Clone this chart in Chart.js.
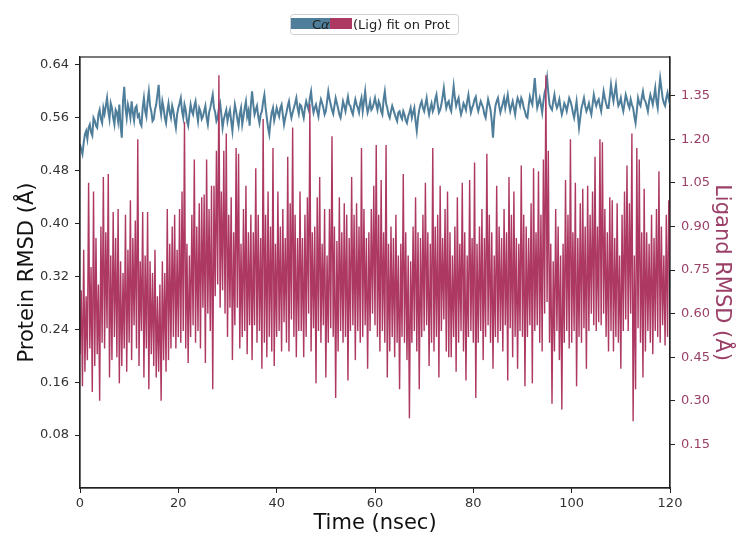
<!DOCTYPE html>
<html>
<head>
<meta charset="utf-8">
<script src="https://cdn.jsdelivr.net/npm/chart.js@4.4.0/dist/chart.umd.min.js"></script>
<style>
  html, body { margin: 0; padding: 0; background: #fff; }
  #wrap { width: 739px; height: 536px; }
</style>
</head>
<body>
<div id="wrap"><canvas id="rmsd"></canvas></div>
<script>
// frames every 0.25 ns, 0 .. 120 ns
const timeStep = 0.25;

// Cα protein RMSD (left axis, Å) - one row = 5 ns
const proteinRmsd = [
  0.520, 0.512, 0.505, 0.522, 0.535, 0.540, 0.528, 0.545, 0.550, 0.538, 0.533, 0.560, 0.556, 0.548, 0.545, 0.565, 0.572, 0.558, 0.552, 0.575,
  0.566, 0.578, 0.590, 0.570, 0.558, 0.582, 0.575, 0.560, 0.550, 0.572, 0.568, 0.555, 0.580, 0.548, 0.530, 0.585, 0.607, 0.575, 0.560, 0.580,
  0.572, 0.560, 0.585, 0.568, 0.556, 0.575, 0.578, 0.562, 0.565, 0.552, 0.548, 0.575, 0.590, 0.570, 0.562, 0.585, 0.600, 0.578, 0.570, 0.555,
  0.558, 0.572, 0.580, 0.595, 0.610, 0.578, 0.565, 0.585, 0.575, 0.560, 0.552, 0.570, 0.582, 0.568, 0.560, 0.578, 0.570, 0.556, 0.545, 0.565,
  0.575, 0.582, 0.590, 0.570, 0.560, 0.580, 0.572, 0.555, 0.548, 0.565, 0.580, 0.570, 0.565, 0.578, 0.585, 0.568, 0.555, 0.575, 0.570, 0.558,
  0.562, 0.570, 0.578, 0.560, 0.550, 0.568, 0.575, 0.585, 0.595, 0.575, 0.568, 0.555, 0.560, 0.575, 0.582, 0.565, 0.545, 0.558, 0.565, 0.572,
  0.555, 0.565, 0.572, 0.555, 0.540, 0.562, 0.580, 0.570, 0.558, 0.548, 0.566, 0.575, 0.550, 0.562, 0.575, 0.585, 0.562, 0.570, 0.548, 0.580,
  0.600, 0.580, 0.565, 0.572, 0.578, 0.562, 0.552, 0.565, 0.570, 0.585, 0.595, 0.575, 0.560, 0.545, 0.535, 0.555, 0.568, 0.575, 0.556, 0.565,
  0.575, 0.568, 0.562, 0.575, 0.580, 0.565, 0.550, 0.560, 0.568, 0.578, 0.585, 0.570, 0.560, 0.568, 0.575, 0.582, 0.590, 0.575, 0.566, 0.580,
  0.578, 0.568, 0.560, 0.575, 0.585, 0.578, 0.572, 0.590, 0.600, 0.580, 0.568, 0.575, 0.580, 0.570, 0.562, 0.578, 0.588, 0.582, 0.575, 0.565,
  0.570, 0.585, 0.600, 0.588, 0.580, 0.572, 0.566, 0.578, 0.590, 0.582, 0.574, 0.565, 0.560, 0.572, 0.585, 0.578, 0.570, 0.582, 0.592, 0.580,
  0.578, 0.570, 0.565, 0.578, 0.588, 0.580, 0.575, 0.568, 0.582, 0.590, 0.570, 0.585, 0.600, 0.580, 0.568, 0.575, 0.585, 0.572, 0.575, 0.582,
  0.590, 0.580, 0.572, 0.585, 0.580, 0.570, 0.565, 0.588, 0.600, 0.582, 0.575, 0.565, 0.560, 0.570, 0.578, 0.572, 0.566, 0.560, 0.555, 0.568,
  0.570, 0.562, 0.558, 0.570, 0.565, 0.556, 0.552, 0.562, 0.568, 0.575, 0.560, 0.568, 0.575, 0.555, 0.540, 0.560, 0.572, 0.580, 0.585, 0.575,
  0.570, 0.580, 0.590, 0.575, 0.565, 0.575, 0.582, 0.570, 0.575, 0.588, 0.595, 0.580, 0.568, 0.572, 0.580, 0.592, 0.605, 0.588, 0.575, 0.582,
  0.585, 0.575, 0.570, 0.590, 0.608, 0.590, 0.578, 0.585, 0.590, 0.575, 0.565, 0.572, 0.582, 0.578, 0.572, 0.585, 0.595, 0.580, 0.568, 0.575,
  0.580, 0.588, 0.592, 0.578, 0.570, 0.578, 0.585, 0.580, 0.575, 0.565, 0.560, 0.575, 0.588, 0.580, 0.572, 0.555, 0.530, 0.560, 0.578, 0.585,
  0.590, 0.578, 0.568, 0.575, 0.582, 0.590, 0.575, 0.585, 0.595, 0.580, 0.570, 0.578, 0.585, 0.575, 0.565, 0.580, 0.590, 0.585, 0.578, 0.590,
  0.585, 0.575, 0.570, 0.562, 0.560, 0.578, 0.592, 0.585, 0.580, 0.600, 0.620, 0.595, 0.575, 0.582, 0.590, 0.580, 0.568, 0.585, 0.598, 0.605,
  0.620, 0.598, 0.580, 0.575, 0.572, 0.585, 0.595, 0.582, 0.575, 0.580, 0.588, 0.575, 0.565, 0.572, 0.582, 0.578, 0.570, 0.580, 0.590, 0.585,
  0.578, 0.568, 0.560, 0.572, 0.585, 0.565, 0.545, 0.560, 0.575, 0.582, 0.590, 0.578, 0.570, 0.575, 0.582, 0.572, 0.565, 0.580, 0.595, 0.585,
  0.578, 0.585, 0.588, 0.578, 0.570, 0.585, 0.600, 0.590, 0.582, 0.575, 0.575, 0.592, 0.610, 0.595, 0.585, 0.598, 0.610, 0.590, 0.578, 0.582,
  0.590, 0.578, 0.570, 0.582, 0.595, 0.588, 0.580, 0.575, 0.588, 0.580, 0.575, 0.562, 0.552, 0.570, 0.590, 0.582, 0.578, 0.590, 0.600, 0.588,
  0.585, 0.578, 0.570, 0.585, 0.595, 0.588, 0.580, 0.592, 0.605, 0.585, 0.575, 0.600, 0.620, 0.605, 0.590, 0.582, 0.578, 0.590, 0.598, 0.588,
  0.580
];

// ligand RMSD, fit on protein (right axis, Å) - one row = 5 ns
const ligandRmsd = [
  0.46, 0.68, 0.35, 0.82, 0.40, 0.66, 0.44, 1.05, 0.48, 0.76, 0.33, 1.02, 0.42, 0.86, 0.46, 0.70, 0.30, 0.90, 0.50, 1.07,
  0.48, 0.88, 0.55, 1.08, 0.38, 0.80, 0.44, 0.95, 0.52, 0.86, 0.45, 0.96, 0.36, 0.78, 0.42, 0.74, 0.48, 0.94, 0.40, 0.82,
  0.50, 0.99, 0.44, 0.86, 0.56, 0.92, 0.48, 1.20, 0.42, 0.78, 0.54, 0.95, 0.38, 0.80, 0.48, 0.95, 0.34, 0.78, 0.46, 0.74,
  0.42, 0.82, 0.38, 0.66, 0.40, 0.70, 0.30, 0.78, 0.44, 0.74, 0.40, 0.96, 0.44, 0.84, 0.48, 0.90, 0.52, 0.94, 0.48, 0.82,
  0.52, 0.96, 0.50, 1.02, 0.54, 1.26, 0.48, 0.84, 0.43, 0.80, 0.52, 0.94, 0.56, 1.13, 0.50, 0.90, 0.54, 0.98, 0.48, 1.00,
  0.62, 1.01, 0.43, 1.13, 0.60, 0.96, 0.54, 1.04, 0.34, 1.04, 0.66, 1.16, 0.70, 1.42, 0.62, 1.02, 0.68, 1.16, 0.60, 1.22,
  0.52, 0.94, 0.62, 1.00, 0.44, 0.88, 0.56, 1.17, 0.62, 1.15, 0.48, 0.84, 0.52, 0.96, 0.54, 1.04, 0.46, 0.88, 0.56, 0.94,
  0.44, 0.88, 0.56, 1.10, 0.50, 0.94, 0.54, 0.86, 0.41, 1.27, 0.50, 0.94, 0.45, 1.02, 0.52, 0.90, 0.47, 1.17, 0.42, 0.84,
  0.52, 1.02, 0.54, 0.90, 0.47, 0.96, 0.57, 0.86, 0.50, 1.14, 0.47, 0.98, 0.58, 1.24, 0.52, 0.94, 0.45, 0.86, 0.54, 1.02,
  0.54, 0.86, 0.45, 0.94, 0.52, 1.00, 0.60, 1.32, 0.47, 0.88, 0.55, 0.90, 0.36, 1.00, 0.54, 1.07, 0.50, 0.84, 0.56, 0.96,
  0.38, 0.80, 0.50, 0.96, 0.55, 1.21, 0.52, 0.90, 0.31, 0.85, 0.47, 1.00, 0.54, 0.88, 0.50, 0.98, 0.52, 0.94, 0.37, 0.86,
  0.54, 1.07, 0.56, 0.94, 0.44, 0.98, 0.54, 0.90, 0.50, 1.17, 0.52, 0.96, 0.56, 0.86, 0.41, 0.88, 0.54, 0.96, 0.60, 1.04,
  0.56, 1.18, 0.52, 0.94, 0.47, 1.06, 0.54, 0.88, 0.50, 1.18, 0.38, 0.84, 0.47, 0.90, 0.52, 0.86, 0.45, 0.94, 0.50, 0.80,
  0.34, 0.84, 0.52, 1.08, 0.50, 0.88, 0.44, 0.80, 0.24, 0.78, 0.50, 0.90, 0.54, 1.00, 0.47, 0.88, 0.34, 0.86, 0.52, 0.94,
  0.54, 1.05, 0.56, 0.88, 0.42, 0.84, 0.50, 1.17, 0.47, 0.90, 0.52, 0.94, 0.38, 1.04, 0.54, 0.86, 0.58, 0.96, 0.47, 1.02,
  0.45, 0.88, 0.45, 0.80, 0.52, 0.90, 0.40, 1.00, 0.50, 0.84, 0.54, 1.05, 0.47, 0.88, 0.37, 0.80, 0.52, 1.06, 0.54, 0.86,
  0.50, 1.12, 0.31, 0.84, 0.50, 0.90, 0.54, 0.96, 0.44, 0.86, 0.52, 1.15, 0.56, 0.94, 0.50, 0.88, 0.41, 0.80, 0.52, 1.04,
  0.50, 0.90, 0.54, 0.86, 0.47, 0.96, 0.56, 0.88, 0.37, 1.07, 0.55, 0.94, 0.45, 1.02, 0.52, 0.86, 0.41, 0.84, 0.54, 1.11,
  0.52, 0.94, 0.35, 0.90, 0.52, 0.86, 0.56, 0.98, 0.36, 1.10, 0.54, 0.88, 0.56, 1.09, 0.50, 0.94, 0.47, 1.13, 0.60, 1.42,
  0.64, 1.16, 0.50, 0.84, 0.29, 0.78, 0.47, 0.96, 0.54, 0.90, 0.44, 0.80, 0.27, 0.84, 0.50, 1.06, 0.54, 0.94, 0.48, 1.20,
  0.50, 0.88, 0.54, 1.05, 0.35, 0.86, 0.52, 0.98, 0.50, 1.03, 0.55, 0.90, 0.41, 1.04, 0.54, 0.94, 0.60, 1.02, 0.56, 1.14,
  0.54, 0.90, 0.57, 1.20, 0.56, 1.19, 0.60, 0.96, 0.52, 0.88, 0.47, 1.00, 0.54, 0.99, 0.47, 0.86, 0.52, 0.98, 0.50, 0.80,
  0.41, 0.94, 0.54, 1.02, 0.58, 1.11, 0.54, 0.98, 0.60, 1.22, 0.23, 0.80, 0.34, 1.17, 0.55, 1.13, 0.50, 0.88, 0.38, 1.03,
  0.47, 0.88, 0.54, 0.84, 0.50, 0.94, 0.46, 0.86, 0.54, 0.96, 0.52, 1.09, 0.50, 0.90, 0.56, 0.80, 0.49, 0.94, 0.52, 0.99,
  0.75
];

const timeTicks = [0, 20, 40, 60, 80, 100, 120];
const proteinTicks = [0.08, 0.16, 0.24, 0.32, 0.40, 0.48, 0.56, 0.64];
const ligandTicks = [0.15, 0.30, 0.45, 0.60, 0.75, 0.90, 1.05, 1.20, 1.35];

const blue = "#4f7e9b";
const red = "#ad3862";
const redText = "#9a4068";

Chart.defaults.font.family = "'DejaVu Sans', 'Noto Sans', sans-serif";

const toPoints = arr => arr.map((v, i) => ({ x: i * timeStep, y: v }));

// matplotlib-like frame + the squeezed legend on top
const framePlugin = {
  id: "frame",
  afterDatasetsDraw(chart) {
    const { ctx, chartArea: a } = chart;
    ctx.save();
    ctx.strokeStyle = "#222";
    ctx.lineWidth = 1.2;
    ctx.strokeRect(a.left, a.top, a.right - a.left, a.bottom - a.top);
    ctx.restore();
  },
  afterDraw(chart) {
    const { ctx } = chart;
    ctx.save();
    ctx.fillStyle = "#fff";
    ctx.strokeStyle = "#d0d0d0";
    ctx.lineWidth = 1;
    ctx.beginPath();
    ctx.roundRect(290.5, 14.5, 168, 20, 3);
    ctx.fill();
    ctx.stroke();
    ctx.fillStyle = blue;
    ctx.fillRect(291, 18, 40, 11);
    ctx.fillStyle = "#222";
    ctx.textBaseline = "alphabetic";
    ctx.font = "13px 'DejaVu Sans'";
    ctx.fillText("C", 312, 29);
    ctx.font = "italic 13px 'DejaVu Sans'";
    ctx.fillText("α", 321, 29);
    ctx.fillStyle = red;
    ctx.fillRect(330, 18, 22, 11);
    ctx.fillStyle = "#222";
    ctx.font = "13px 'DejaVu Sans'";
    ctx.fillText("(Lig) fit on Prot", 353, 29);
    ctx.restore();
  }
};

new Chart(document.getElementById("rmsd"), {
  type: "line",
  data: {
    datasets: [
      {
        label: "(Lig) fit on Prot",
        data: toPoints(ligandRmsd),
        yAxisID: "yLig",
        borderColor: red,
        borderWidth: 1.4,
        pointRadius: 0,
        order: 0
      },
      {
        label: "Cα",
        data: toPoints(proteinRmsd),
        yAxisID: "yProt",
        borderColor: blue,
        borderWidth: 2,
        pointRadius: 0,
        order: 1
      }
    ]
  },
  options: {
    responsive: true,
    maintainAspectRatio: false,
    animation: false,
    layout: { padding: { top: 57, left: 0, right: 0, bottom: 0 } },
    plugins: { legend: { display: false }, tooltip: { enabled: false } },
    scales: {
      x: {
        type: "linear",
        min: 0,
        max: 120,
        afterBuildTicks: axis => { axis.ticks = timeTicks.map(v => ({ value: v })); },
        afterFit: axis => { axis.height = 48; },
        grid: { drawOnChartArea: false, tickLength: 5, color: "#222" },
        border: { color: "#222", width: 1.2 },
        ticks: { color: "#333", font: { size: 13 }, padding: 3, maxRotation: 0 },
        title: { display: true, text: "Time (nsec)", color: "#111", font: { size: 21 }, padding: { top: 0, bottom: 0 } }
      },
      yProt: {
        position: "left",
        min: 0,
        max: 0.652,
        afterBuildTicks: axis => { axis.ticks = proteinTicks.map(v => ({ value: v })); },
        afterFit: axis => { axis.width = 80; },
        grid: { drawOnChartArea: false, tickLength: 5, color: "#222" },
        border: { color: "#222", width: 1.2 },
        ticks: { color: "#333", font: { size: 13 }, padding: 6, callback: v => v.toFixed(2) },
        title: { display: true, text: "Protein RMSD (Å)", color: "#111", font: { size: 21 }, padding: { top: 15, bottom: 0 } }
      },
      yLig: {
        position: "right",
        min: 0,
        max: 1.483,
        afterBuildTicks: axis => { axis.ticks = ligandTicks.map(v => ({ value: v })); },
        afterFit: axis => { axis.width = 69; },
        grid: { drawOnChartArea: false, tickLength: 5, color: "#222" },
        border: { color: "#222", width: 1.2 },
        ticks: { color: redText, font: { size: 13 }, padding: 6, callback: v => v.toFixed(2) },
        title: { display: true, text: "Ligand RMSD (Å)", color: redText, font: { size: 21 }, padding: { top: 5, bottom: 0 } }
      }
    }
  },
  plugins: [framePlugin]
});
</script>
</body>
</html>
